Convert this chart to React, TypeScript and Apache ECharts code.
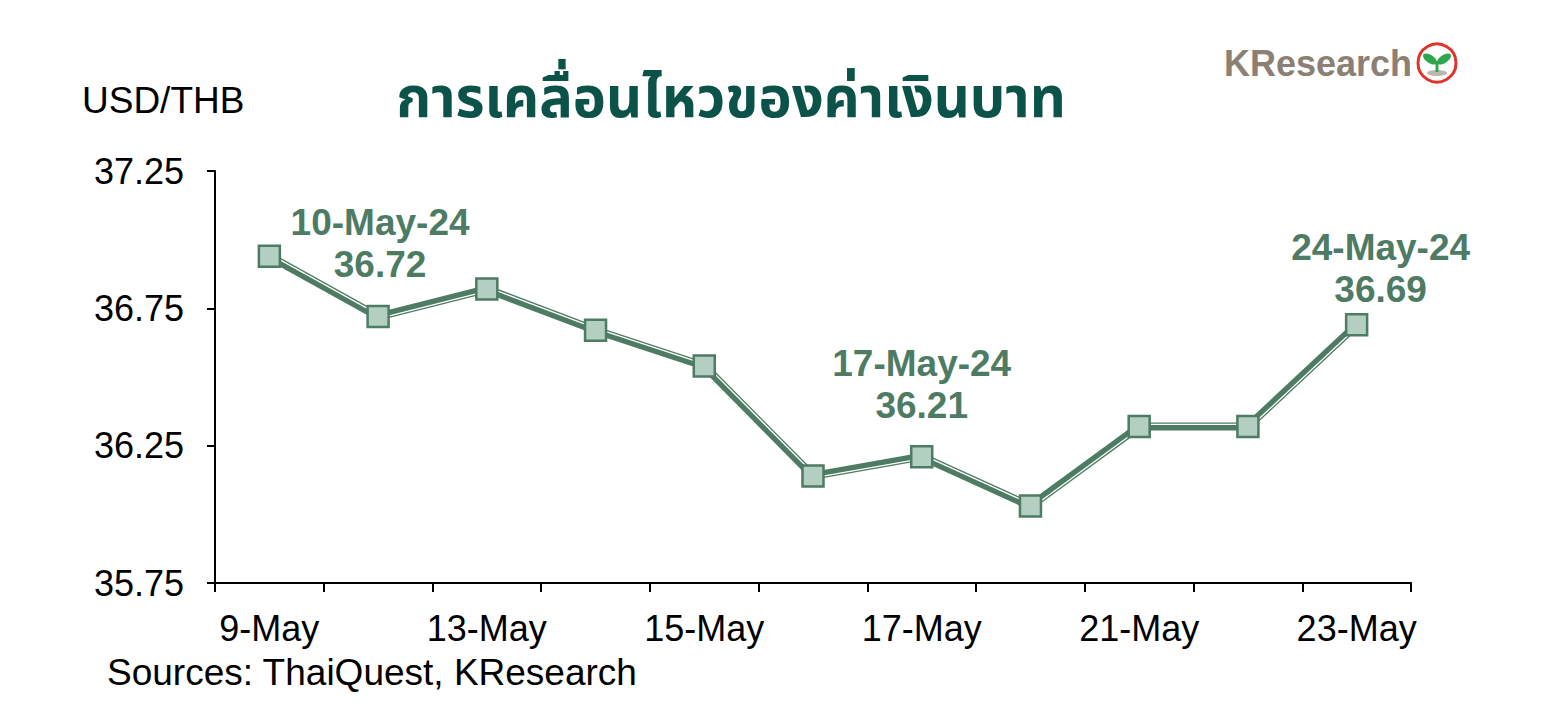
import React, { useEffect, useRef } from "react";
import * as echarts from "echarts";

const categories = ["9-May", "10-May", "13-May", "14-May", "15-May", "16-May", "17-May", "20-May", "21-May", "22-May", "23-May"];
const usdThb = [36.94, 36.72, 36.82, 36.67, 36.54, 36.14, 36.21, 36.03, 36.32, 36.32, 36.69];
const yTicks = [35.75, 36.25, 36.75, 37.25];
const annotIndex = [1, 6, 10];
const annotDate = ["10-May-24", "17-May-24", "24-May-24"];

const TITLE = "การเคลื่อนไหวของค่าเงินบาท";
const UNIT = "USD/THB";
const SOURCE = "Sources: ThaiQuest, KResearch";

const GREEN = "#4e7b64";
const MARKER_FILL = "#b2cfc1";
const TITLE_COLOR = "#0b5249";
const FONT = "'Liberation Sans', Arial, sans-serif";
const THAI_FONT = "'Noto Sans Thai', 'Noto Sans Thai UI', Tahoma, 'Garuda', 'Loma', 'Noto Sans', sans-serif";
const labelOffsets: Record<number, [number, number]> = { 1: [2, -19], 6: [0, -18], 10: [24, -3] };

export default function App() {
  const ref = useRef<HTMLDivElement>(null);
  useEffect(() => {
    if (!ref.current) return;
    const chart = echarts.init(ref.current, undefined, { renderer: "svg" });
    const n = usdThb.length;
    const option: any = {
      animation: false,
      backgroundColor: "#ffffff",
      grid: { left: 215, right: 144, top: 171, bottom: 143, containLabel: false },
      xAxis: {
        type: "category",
        data: categories,
        boundaryGap: true,
        axisLine: { show: true, lineStyle: { color: "#000", width: 2 } },
        axisTick: { show: true, interval: 0, length: 9, lineStyle: { color: "#000", width: 2 } },
        axisLabel: { interval: 1, color: "#000", fontSize: 36, fontFamily: FONT, margin: 27 },
        splitLine: { show: false },
      },
      yAxis: {
        type: "value",
        min: yTicks[0],
        max: yTicks[yTicks.length - 1],
        interval: yTicks[1] - yTicks[0],
        axisLine: { show: true, lineStyle: { color: "#000", width: 2 } },
        axisTick: { show: true, length: 8, lineStyle: { color: "#000", width: 2 } },
        axisLabel: {
          color: "#000",
          fontSize: 36,
          fontFamily: FONT,
          margin: 31,
          formatter: (v: number) => v.toFixed(2),
        },
        splitLine: { show: false },
      },
      series: [
        {
          type: "custom",
          z: 2,
          data: usdThb.map((v, i) => [i, v]),
          encode: { x: 0, y: 1 },
          renderItem: (params: any, api: any) => {
            const i = params.dataIndex;
            if (i >= n - 1) return { type: "group", children: [] };
            const p0 = api.coord([i, usdThb[i]]);
            const p1 = api.coord([i + 1, usdThb[i + 1]]);
            const dx = p1[0] - p0[0];
            const dy = p1[1] - p0[1];
            const len = Math.hypot(dx, dy) || 1;
            let nx = dy / len;
            let ny = -dx / len;
            if (dy < 0) {
              nx = -nx;
              ny = -ny;
            }
            const off = 2;
            return {
              type: "group",
              children: [
                {
                  type: "line",
                  shape: { x1: p0[0], y1: p0[1], x2: p1[0], y2: p1[1] },
                  style: { stroke: GREEN, lineWidth: 8, lineCap: "butt" },
                },
                {
                  type: "line",
                  shape: { x1: p0[0] + nx * off, y1: p0[1] + ny * off, x2: p1[0] + nx * off, y2: p1[1] + ny * off },
                  style: { stroke: "#ffffff", lineWidth: 1.3, lineCap: "butt" },
                },
              ],
            };
          },
        },
        {
          type: "scatter",
          z: 4,
          symbol: "rect",
          symbolSize: 21,
          itemStyle: { color: MARKER_FILL, borderColor: GREEN, borderWidth: 2.5, opacity: 1 },
          data: usdThb.map((v, i) => {
            const k = annotIndex.indexOf(i);
            if (k < 0) return v;
            return {
              value: v,
              label: {
                show: true,
                position: "top",
                distance: 0,
                offset: labelOffsets[i] || [0, 0],
                formatter: `${annotDate[k]}\n${v.toFixed(2)}`,
                color: GREEN,
                fontSize: 37,
                fontWeight: "bold",
                fontFamily: FONT,
                lineHeight: 42,
                align: "center",
              },
            };
          }),
        },
      ],
      graphic: [
        {
          type: "text",
          left: 82,
          top: 82,
          style: { text: UNIT, fontSize: 37, fontFamily: FONT, fill: "#000" },
        },
        {
          type: "text",
          left: 107,
          top: 654,
          style: { text: SOURCE, fontSize: 37, fontFamily: FONT, fill: "#000" },
        },
        {
          type: "text",
          x: 731,
          y: 100,
          style: {
            text: TITLE,
            fontSize: 56,
            fontWeight: "bold",
            fontFamily: THAI_FONT,
            fill: TITLE_COLOR,
            align: "center",
            verticalAlign: "middle",
          },
        },
        {
          type: "text",
          x: 1224,
          y: 63,
          style: {
            text: "KResearch",
            fontSize: 36,
            fontWeight: "bold",
            fontFamily: FONT,
            fill: "#8c8075",
            verticalAlign: "middle",
          },
        },
        {
          type: "group",
          x: 1437,
          y: 63,
          children: [
            { type: "circle", shape: { cx: 0, cy: 0, r: 19 }, style: { fill: "#fff", stroke: "#e2332b", lineWidth: 3 } },
            { type: "ellipse", shape: { cx: 0, cy: 10, rx: 10, ry: 3 }, style: { fill: "#bdb6ad" } },
            { type: "rect", shape: { x: -1.5, y: -2, width: 3, height: 11 }, style: { fill: "#2ea64b" } },
            {
              type: "ellipse",
              shape: { cx: -7, cy: -4, rx: 8, ry: 4 },
              rotation: -0.6,
              originX: -7,
              originY: -4,
              style: { fill: "#2ea64b" },
            },
            {
              type: "ellipse",
              shape: { cx: 7, cy: -4, rx: 8, ry: 4 },
              rotation: 0.6,
              originX: 7,
              originY: -4,
              style: { fill: "#2ea64b" },
            },
          ],
        },
      ],
    };
    chart.setOption(option);
    return () => chart.dispose();
  }, []);
  return (
    <div
      ref={ref}
      style={{ position: "fixed", left: 0, top: 0, width: 1555, height: 726, background: "#fff" }}
    />
  );
}
